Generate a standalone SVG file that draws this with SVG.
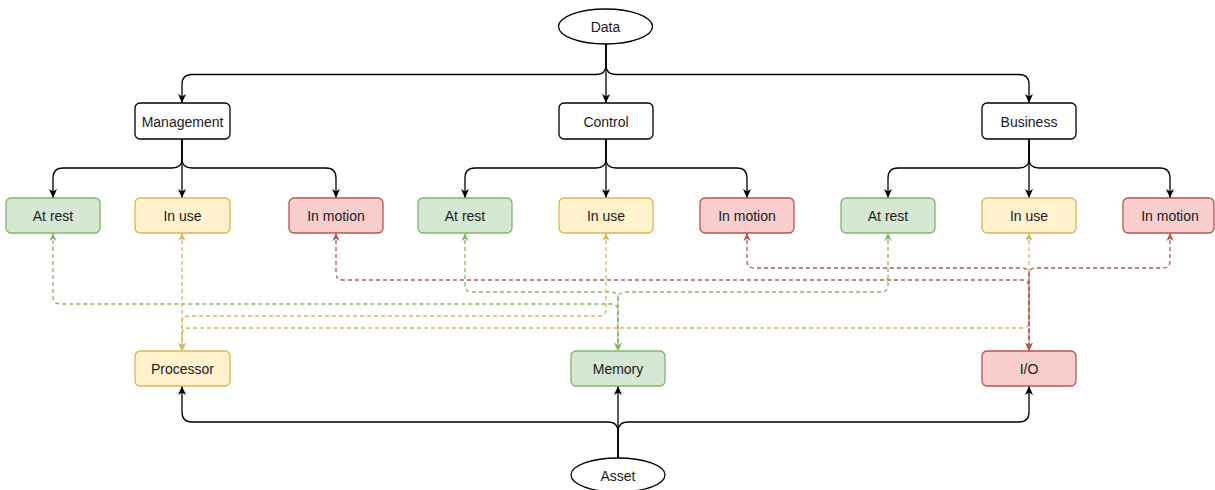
<svg xmlns="http://www.w3.org/2000/svg" width="1215" height="490" viewBox="0 0 1215 490">
  <style>
    .lbl { font-family: "Liberation Sans", Arial, sans-serif; font-size: 14px; fill: #1a1a1a; text-anchor: middle; dominant-baseline: central; }
    .plain { fill: #ffffff; stroke: #000000; stroke-width: 1.3; }
    .green { fill: #d5e8d4; stroke: #82b366; stroke-width: 1.3; }
    .yellow { fill: #fff2cc; stroke: #d6b656; stroke-width: 1.3; }
    .red { fill: #f8cecc; stroke: #b85450; stroke-width: 1.3; }
    .edge { fill: none; stroke: #000000; stroke-width: 1.3; marker-end: url(#arrowBlack); }
    .dash { fill: none; stroke-width: 1.3; stroke-dasharray: 4 3; }
    .dg { stroke: #82b366; marker-start: url(#arrowGreen); marker-end: url(#arrowGreen); }
    .dy { stroke: #d6b656; marker-start: url(#arrowYellow); marker-end: url(#arrowYellow); }
    .dr { stroke: #b85450; marker-start: url(#arrowRed); marker-end: url(#arrowRed); }
  </style>
  <defs>
    <marker id="arrowBlack" viewBox="0 0 10 10" refX="9.5" refY="5" markerUnits="userSpaceOnUse" markerWidth="10" markerHeight="10" orient="auto-start-reverse">
      <path d="M0.5,1 L9.5,5 L0.5,9 L3,5 z" fill="#000000"/>
    </marker>
    <marker id="arrowGreen" viewBox="0 0 10 10" refX="9.5" refY="5" markerUnits="userSpaceOnUse" markerWidth="9" markerHeight="9" orient="auto-start-reverse">
      <path d="M0.5,1 L9.5,5 L0.5,9 L3,5 z" fill="#82b366"/>
    </marker>
    <marker id="arrowYellow" viewBox="0 0 10 10" refX="9.5" refY="5" markerUnits="userSpaceOnUse" markerWidth="9" markerHeight="9" orient="auto-start-reverse">
      <path d="M0.5,1 L9.5,5 L0.5,9 L3,5 z" fill="#d6b656"/>
    </marker>
    <marker id="arrowRed" viewBox="0 0 10 10" refX="9.5" refY="5" markerUnits="userSpaceOnUse" markerWidth="9" markerHeight="9" orient="auto-start-reverse">
      <path d="M0.5,1 L9.5,5 L0.5,9 L3,5 z" fill="#b85450"/>
    </marker>
  </defs>

  <rect width="1215" height="490" fill="#ffffff"/>

  <!-- connectors -->
  <g id="connectors">
    <!-- Data to the three domains -->
    <path class="edge" d="M606,44 V65 Q606,74.5 596,74.5 H192 Q182,74.5 182,84.5 V103"/>
    <path class="edge" d="M606,44 V103"/>
    <path class="edge" d="M606,44 V65 Q606,74.5 616,74.5 H1019 Q1029,74.5 1029,84.5 V103"/>
    <!-- Management to states -->
    <path class="edge" d="M182,139 V159 Q182,168 172,168 H63 Q53,168 53,178 V198"/>
    <path class="edge" d="M182,139 V198"/>
    <path class="edge" d="M182,139 V159 Q182,168 192,168 H326 Q336,168 336,178 V198"/>
    <!-- Control to states -->
    <path class="edge" d="M606,139 V159 Q606,168 596,168 H475 Q465,168 465,178 V198"/>
    <path class="edge" d="M606,139 V198"/>
    <path class="edge" d="M606,139 V159 Q606,168 616,168 H737 Q747,168 747,178 V198"/>
    <!-- Business to states -->
    <path class="edge" d="M1029,139 V159 Q1029,168 1019,168 H898 Q888,168 888,178 V198"/>
    <path class="edge" d="M1029,139 V198"/>
    <path class="edge" d="M1029,139 V159 Q1029,168 1039,168 H1160 Q1170,168 1170,178 V198"/>
    <!-- Asset to components -->
    <path class="edge" d="M618,458 V432 Q618,422 608,422 H192 Q182,422 182,412 V386"/>
    <path class="edge" d="M618,458 V386"/>
    <path class="edge" d="M618,458 V432 Q618,422 628,422 H1019 Q1029,422 1029,412 V386"/>

    <!-- At rest <-> Memory -->
    <path class="dash dg" d="M53,233 V296 Q53,304 61,304 H611 Q618,304 618,311 V351"/>
    <path class="dash dg" d="M465,233 V285 Q465,292 472,292 H611 Q618,292 618,299 V351"/>
    <path class="dash dg" d="M888,233 V285 Q888,292 881,292 H625 Q618,292 618,299 V351"/>
    <!-- In use <-> Processor -->
    <path class="dash dy" d="M182,233 V351"/>
    <path class="dash dy" d="M606,233 V309 Q606,316 599,316 H189 Q182,316 182,323 V351"/>
    <path class="dash dy" d="M1029,233 V321 Q1029,328 1022,328 H189 Q182,328 182,335 V351"/>
    <!-- In motion <-> I/O -->
    <path class="dash dr" d="M336,233 V273 Q336,280 343,280 H1022 Q1029,280 1029,287 V351"/>
    <path class="dash dr" d="M747,233 V261 Q747,268 754,268 H1022 Q1029,268 1029,275 V351"/>
    <path class="dash dr" d="M1170,233 V261 Q1170,268 1163,268 H1036 Q1029,268 1029,275 V351"/>
  </g>

  <!-- top root -->
  <g id="data">
    <ellipse class="plain" cx="605.5" cy="26.5" rx="47" ry="17.5"/>
    <text class="lbl" x="605.5" y="27">Data</text>
  </g>

  <!-- domains -->
  <g id="management">
    <rect class="plain" x="135" y="103" width="95" height="36" rx="5"/>
    <text class="lbl" x="182.5" y="121.5">Management</text>
  </g>
  <g id="control">
    <rect class="plain" x="559" y="103" width="94" height="36" rx="5"/>
    <text class="lbl" x="606" y="121.5">Control</text>
  </g>
  <g id="business">
    <rect class="plain" x="982" y="103" width="94" height="36" rx="5"/>
    <text class="lbl" x="1029" y="121.5">Business</text>
  </g>

  <!-- states under Management -->
  <g id="mgmt-at-rest">
    <rect class="green" x="6" y="198" width="94" height="35" rx="5"/>
    <text class="lbl" x="53" y="216">At rest</text>
  </g>
  <g id="mgmt-in-use">
    <rect class="yellow" x="135" y="198" width="95" height="35" rx="5"/>
    <text class="lbl" x="182.5" y="216">In use</text>
  </g>
  <g id="mgmt-in-motion">
    <rect class="red" x="289" y="198" width="94" height="35" rx="5"/>
    <text class="lbl" x="336" y="216">In motion</text>
  </g>

  <!-- states under Control -->
  <g id="ctrl-at-rest">
    <rect class="green" x="418" y="198" width="94" height="35" rx="5"/>
    <text class="lbl" x="465" y="216">At rest</text>
  </g>
  <g id="ctrl-in-use">
    <rect class="yellow" x="559" y="198" width="94" height="35" rx="5"/>
    <text class="lbl" x="606" y="216">In use</text>
  </g>
  <g id="ctrl-in-motion">
    <rect class="red" x="700" y="198" width="94" height="35" rx="5"/>
    <text class="lbl" x="747" y="216">In motion</text>
  </g>

  <!-- states under Business -->
  <g id="biz-at-rest">
    <rect class="green" x="841" y="198" width="94" height="35" rx="5"/>
    <text class="lbl" x="888" y="216">At rest</text>
  </g>
  <g id="biz-in-use">
    <rect class="yellow" x="982" y="198" width="94" height="35" rx="5"/>
    <text class="lbl" x="1029" y="216">In use</text>
  </g>
  <g id="biz-in-motion">
    <rect class="red" x="1123" y="198" width="91" height="35" rx="5"/>
    <text class="lbl" x="1170" y="216">In motion</text>
  </g>

  <!-- components -->
  <g id="processor">
    <rect class="yellow" x="135" y="351" width="95" height="35" rx="5"/>
    <text class="lbl" x="182.5" y="368.5">Processor</text>
  </g>
  <g id="memory">
    <rect class="green" x="571" y="351" width="94" height="35" rx="5"/>
    <text class="lbl" x="618" y="368.5">Memory</text>
  </g>
  <g id="io">
    <rect class="red" x="982" y="351" width="94" height="35" rx="5"/>
    <text class="lbl" x="1029" y="368.5">I/O</text>
  </g>

  <!-- bottom root -->
  <g id="asset">
    <ellipse class="plain" cx="618" cy="475" rx="47" ry="17"/>
    <text class="lbl" x="618" y="475.5">Asset</text>
  </g>
</svg>
